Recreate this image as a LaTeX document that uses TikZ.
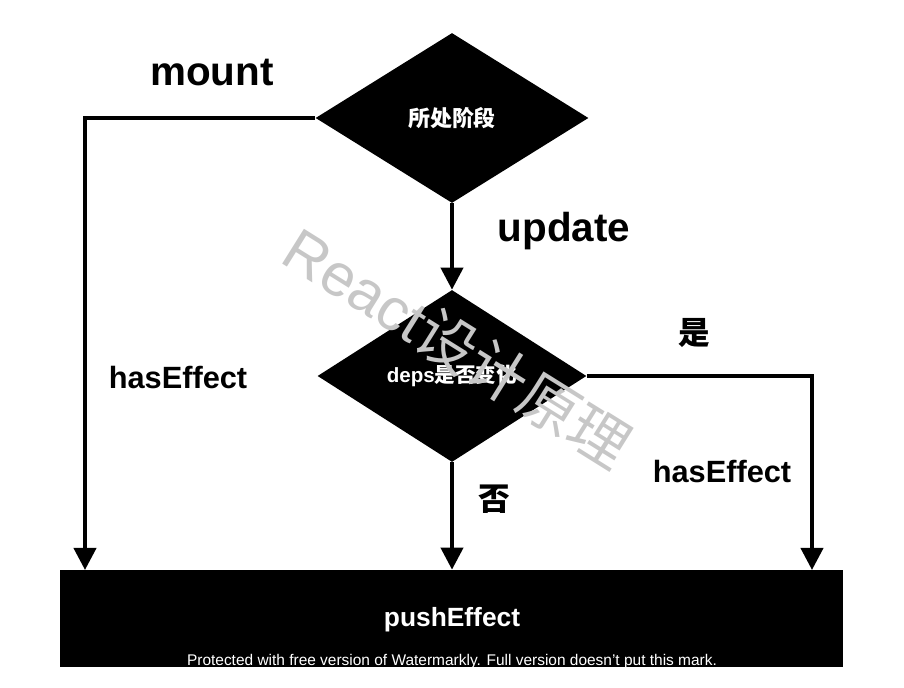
\documentclass[tikz,border=0pt]{standalone}
\usepackage{fontspec}
\setmainfont{Liberation Sans}
\newfontfamily\cjk{Noto Sans CJK SC}
\usetikzlibrary{shapes.geometric,arrows.meta}

\begin{document}
\begin{tikzpicture}[x=0.02cm,y=-0.02cm,
  decide/.style={diamond,fill=black,text=white,inner sep=0pt,font=\bfseries},
  flow/.style={line width=0.08cm,-{Triangle[width=0.44cm,length=0.44cm]}},
  lbl/.style={font=\bfseries}]
\useasboundingbox (0,0) rectangle (904,688);

% decisions
\node[decide,minimum width=5.46cm,minimum height=3.4cm,font=\fontsize{12.5}{14}\selectfont\bfseries\cjk] (phase) at (452,118) {所处阶段};
\node[decide,minimum width=5.38cm,minimum height=3.44cm,font=\fontsize{11.7}{14}\selectfont\bfseries] (deps) at (452,376) {deps{\cjk 是否变化}};

\node[fill=black,text=white,minimum width=15.66cm,minimum height=1.94cm,inner sep=0pt,font=\fontsize{15}{18}\selectfont\bfseries] (push) at (451.5,618.5) {};
\node[text=white,font=\fontsize{15}{18}\selectfont\bfseries] (pushlbl) at (452,620) {pushEffect};

\coordinate (mountend) at (85,570);
\coordinate (yesend) at (812,570);

\draw[flow] (phase.west) -| (mountend);
\draw[flow] (phase.south) -- (deps.north);
\draw[flow] (deps.south) -- (deps.south |- push.north);
\draw[flow] (deps.east) -| (yesend);

% labels
\node[lbl,font=\fontsize{23}{26}\selectfont\bfseries] (mount) at (212,73) {mount};
\node[lbl,font=\fontsize{23}{26}\selectfont\bfseries] (update) at (564,231) {update};
\node[lbl,font=\fontsize{17.5}{20}\selectfont\bfseries] (effl) at (178,378) {hasEffect};
\node[lbl,font=\fontsize{17.5}{20}\selectfont\bfseries] (effr) at (722,472) {hasEffect};
\node[lbl,font=\fontsize{18}{20}\selectfont\bfseries\cjk] (yes) at (694,333) {是};
\node[lbl,font=\fontsize{18}{20}\selectfont\bfseries\cjk] (no) at (494,499) {否};

% watermarks
\node[text=black!22,rotate=-32,font=\fontsize{34}{40}\selectfont] (wm) at (458,347) {React{\cjk 设计原理}};
\node[text=white,font=\fontsize{8.8}{10}\selectfont] (wmk) at (452,662) {Protected with free version of Watermarkly. Full version doesn't put this mark.};
\end{tikzpicture}
\end{document}
